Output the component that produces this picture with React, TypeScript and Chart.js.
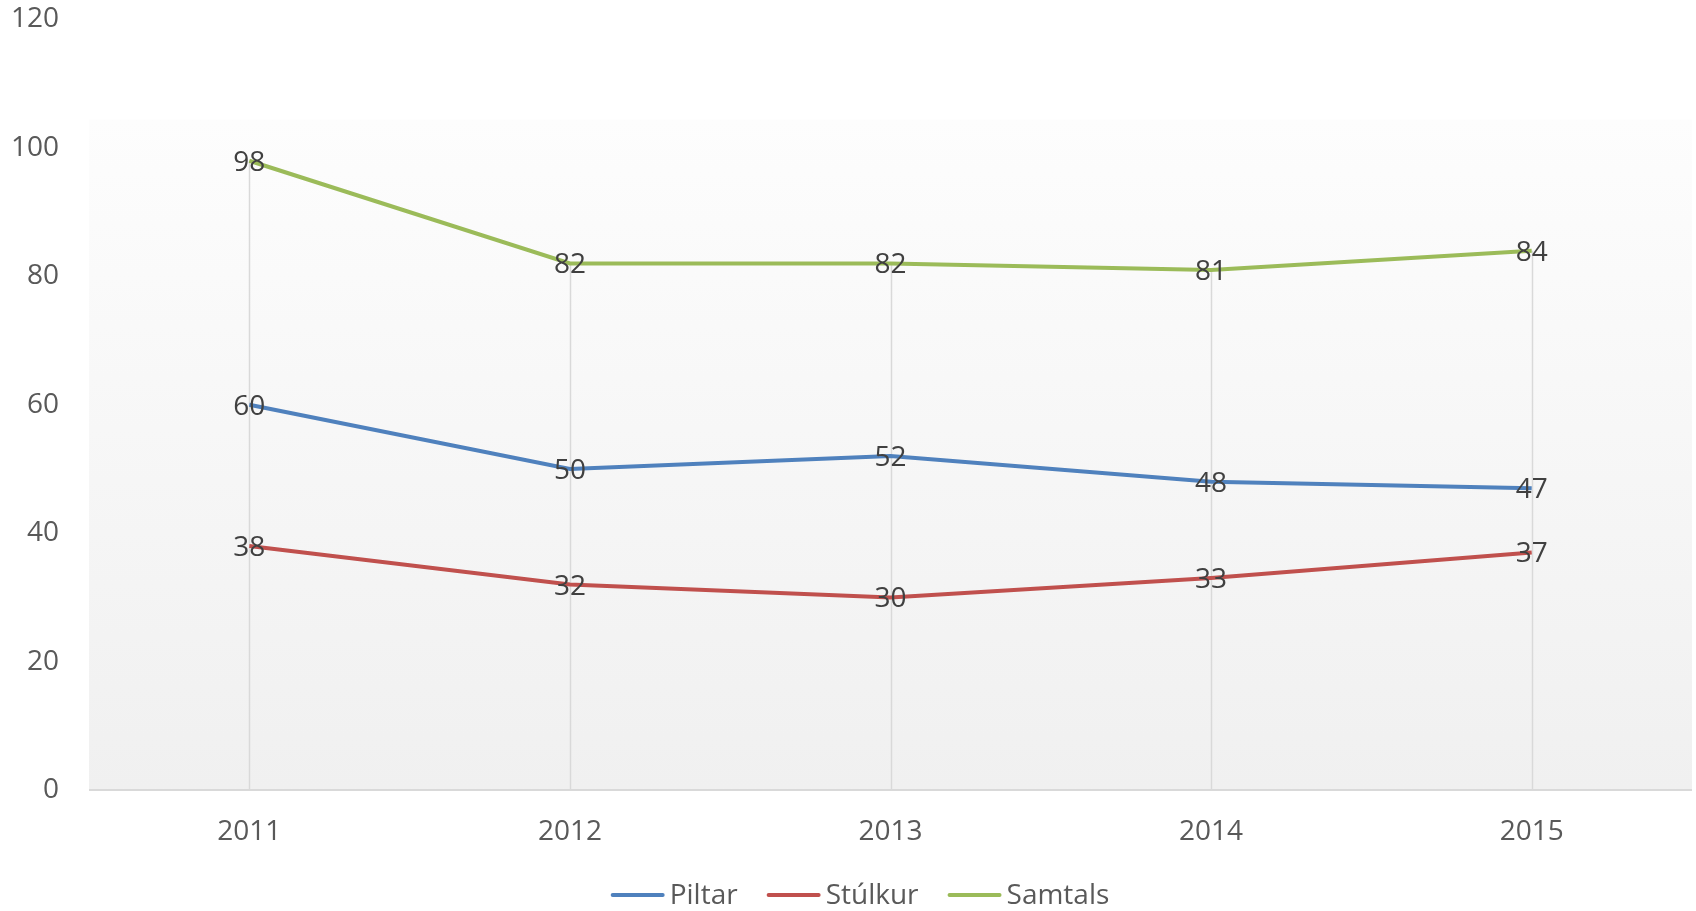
import React, { useEffect, useRef } from "react";
import { Chart, registerables } from "chart.js";

Chart.register(...registerables);

const years = ["2011", "2012", "2013", "2014", "2015"];
const piltar = [60, 50, 52, 48, 47];
const stulkur = [38, 32, 30, 33, 37];
const samtals = [98, 82, 82, 81, 84];
const yTicks = [0, 20, 40, 60, 80, 100, 120];

const FONT = "'Open Sans', 'Liberation Sans', sans-serif";

const backgroundPlugin = {
  id: "plotBackground",
  beforeDatasetsDraw(chart: any) {
    const { ctx, chartArea } = chart;
    const { left, right, top, bottom } = chartArea;
    const gTop = top + (bottom - top) * 0.13;
    const g = ctx.createLinearGradient(0, gTop, 0, bottom);
    g.addColorStop(0, "#fdfdfd");
    g.addColorStop(1, "#f0f0f0");
    ctx.save();
    ctx.fillStyle = g;
    ctx.fillRect(left, gTop, right - left, bottom - gTop);
    // drop lines from highest series value down to axis
    const xs = chart.scales.x;
    const ys = chart.scales.y;
    ctx.strokeStyle = "#d9d9d9";
    ctx.lineWidth = 1.5;
    for (let i = 0; i < years.length; i++) {
      let maxV = -Infinity;
      chart.data.datasets.forEach((d: any) => {
        if (d.data[i] > maxV) maxV = d.data[i];
      });
      const x = Math.round(xs.getPixelForValue(i)) + 0.5;
      ctx.beginPath();
      ctx.moveTo(x, ys.getPixelForValue(maxV));
      ctx.lineTo(x, bottom);
      ctx.stroke();
    }
    ctx.lineWidth = 2;
    ctx.beginPath();
    ctx.moveTo(left, bottom);
    ctx.lineTo(right, bottom);
    ctx.stroke();
    ctx.restore();
  },
};

const labelPlugin = {
  id: "dataLabels",
  afterDatasetsDraw(chart: any) {
    const { ctx } = chart;
    ctx.save();
    ctx.font = `28px ${FONT}`;
    ctx.fillStyle = "#404040";
    ctx.textAlign = "center";
    ctx.textBaseline = "middle";
    chart.data.datasets.forEach((d: any, di: number) => {
      const meta = chart.getDatasetMeta(di);
      meta.data.forEach((pt: any, i: number) => {
        ctx.fillText(String(d.data[i]), pt.x, pt.y + 2);
      });
    });
    ctx.restore();
  },
};

const legendPlugin = {
  id: "customLegend",
  afterDraw(chart: any) {
    const { ctx, width } = chart;
    const lineLen = 54;
    const gap = 5;
    const itemGap = 29;
    const y = 895;
    ctx.save();
    ctx.font = `28px ${FONT}`;
    ctx.textBaseline = "middle";
    ctx.textAlign = "left";
    const items = chart.data.datasets.map((d: any) => ({
      label: d.label,
      color: d.borderColor,
      w: ctx.measureText(d.label).width,
    }));
    const total =
      items.reduce((a: number, it: any) => a + lineLen + gap + it.w, 0) +
      itemGap * (items.length - 1);
    let x = width / 2 - total / 2 + 12;
    items.forEach((it: any) => {
      ctx.strokeStyle = it.color;
      ctx.lineWidth = 4;
      ctx.lineCap = "round";
      ctx.beginPath();
      ctx.moveTo(x + 2, y);
      ctx.lineTo(x + lineLen - 2, y);
      ctx.stroke();
      x += lineLen + gap;
      ctx.fillStyle = "#595959";
      ctx.fillText(it.label, x, y + 1);
      x += it.w + itemGap;
    });
    ctx.restore();
  },
};

export default function App() {
  const ref = useRef<HTMLCanvasElement>(null);

  useEffect(() => {
    if (!ref.current) return;
    const mk = (label: string, data: number[], color: string) => ({
      label,
      data,
      borderColor: color,
      backgroundColor: color,
      borderWidth: 4,
      pointRadius: 0,
      pointHoverRadius: 0,
      tension: 0,
    });
    const chart = new Chart(ref.current, {
      type: "line",
      data: {
        labels: years,
        datasets: [
          mk("Piltar", piltar, "#4f81bd"),
          mk("Stúlkur", stulkur, "#c0504d"),
          mk("Samtals", samtals, "#9bbb59"),
        ],
      },
      plugins: [backgroundPlugin, labelPlugin, legendPlugin],
      options: {
        responsive: false,
        animation: false,
        maintainAspectRatio: false,
        layout: { padding: { top: 0, right: 4, left: 0, bottom: 0 } },
        plugins: {
          tooltip: { enabled: false },
          legend: { display: false },
        },
        scales: {
          x: {
            offset: true,
            grid: { display: false, drawTicks: false },
            border: { display: false },
            ticks: {
              color: "#595959",
              font: { family: FONT, size: 28 },
              padding: 25,
              maxRotation: 0,
            },
            afterFit(s: any) {
              s.height = 121;
            },
          },
          y: {
            min: 0,
            max: 120,
            afterBuildTicks(s: any) {
              s.ticks = yTicks.map((v) => ({ value: v }));
            },
            grid: { display: false, drawTicks: false },
            border: { display: false },
            ticks: {
              color: "#595959",
              font: { family: FONT, size: 28 },
              padding: 30,
            },
            afterFit(s: any) {
              s.width = 89;
              s.paddingTop = 19.5;
              s.paddingBottom = 17;
            },
          },
        },
      },
    } as any);
    return () => chart.destroy();
  }, []);

  return (
    <div style={{ position: "fixed", left: 0, top: 0, width: 1696, height: 911, background: "#fff" }}>
      <canvas ref={ref} width={1696} height={911} style={{ display: "block" }} />
    </div>
  );
}
